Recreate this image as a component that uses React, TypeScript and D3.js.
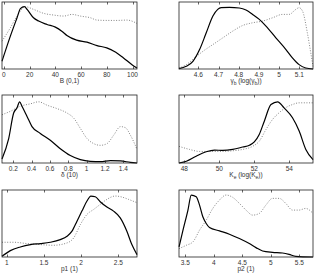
import React, { useEffect, useRef } from 'react';
import * as d3 from 'd3';

// panel 1: B (0,1)
const bDomain = [-1.5, 103.5];
const bTicks = [0, 20, 40, 60, 80, 100];
const bSolidX = [-1.5, 5, 10.2, 12.8, 15.9, 18, 23, 27, 33.5, 40, 45, 49, 56.5, 64.6, 72.4, 80, 87, 93, 99.6, 103.5];
const bSolidY = [0.115, 0.49, 0.765, 0.9, 0.93, 0.89, 0.765, 0.715, 0.665, 0.625, 0.565, 0.5, 0.43, 0.4, 0.35, 0.315, 0.25, 0.165, 0.065, 0.015];
const bDotX = [-1.5, 5, 10.2, 16.6, 23, 31, 38.7, 46.5, 53, 59.4, 67.2, 72.4, 80, 88, 95.7, 103.5];
const bDotY = [0.415, 0.615, 0.79, 0.93, 0.89, 0.83, 0.805, 0.79, 0.815, 0.79, 0.765, 0.73, 0.725, 0.725, 0.73, 0.68];

// panel 2: gamma_b
const gDomain = [4.504, 5.168];
const gTicks = [4.6, 4.7, 4.8, 4.9, 5, 5.1];
const gSolidX = [4.504, 4.54, 4.573, 4.606, 4.639, 4.672, 4.696, 4.713, 4.754, 4.803, 4.836, 4.869, 4.902, 4.935, 4.984, 5.034, 5.066, 5.099, 5.132, 5.168];
const gSolidY = [0.005, 0.04, 0.115, 0.29, 0.54, 0.79, 0.89, 0.915, 0.92, 0.91, 0.88, 0.815, 0.74, 0.64, 0.465, 0.29, 0.165, 0.065, 0.015, 0];
const gDotX = [4.504, 4.54, 4.581, 4.623, 4.672, 4.721, 4.77, 4.82, 4.869, 4.918, 4.968, 5.017, 5.05, 5.083, 5.099, 5.116, 5.14, 5.157, 5.168];
const gDotY = [0.015, 0.065, 0.165, 0.265, 0.365, 0.465, 0.565, 0.65, 0.69, 0.715, 0.765, 0.815, 0.815, 0.89, 0.915, 0.865, 0.54, 0.24, 0.04];

// panel 3: delta (10)
const dDomain = [0.077, 1.549];
const dTicks = [0.2, 0.4, 0.6, 0.8, 1, 1.2, 1.4];
const dSolidX = [0.077, 0.15, 0.204, 0.24, 0.269, 0.295, 0.35, 0.404, 0.495, 0.604, 0.713, 0.822, 0.931, 1.04, 1.15, 1.259, 1.368, 1.477, 1.549];
const dSolidY = [0.06, 0.36, 0.735, 0.81, 0.9, 0.835, 0.685, 0.535, 0.435, 0.335, 0.21, 0.11, 0.05, 0.025, 0.02, 0.035, 0.03, 0.01, 0];
const dDotX = [0.077, 0.168, 0.277, 0.386, 0.477, 0.568, 0.677, 0.786, 0.859, 0.931, 1.004, 1.077, 1.15, 1.222, 1.295, 1.368, 1.422, 1.477, 1.549];
const dDotY = [0.71, 0.76, 0.835, 0.87, 0.9, 0.85, 0.8, 0.735, 0.66, 0.51, 0.36, 0.285, 0.26, 0.285, 0.41, 0.535, 0.52, 0.41, 0.2];

// panel 4: K_e
const kDomain = [47.7, 55.35];
const kTicks = [48, 50, 52, 54];
const kSolidX = [47.7, 48.12, 48.68, 49.25, 49.73, 50.2, 50.77, 51.34, 51.72, 52.0, 52.28, 52.57, 52.95, 53.33, 53.7, 54.18, 54.56, 54.94, 55.35];
const kSolidY = [0, 0.025, 0.1, 0.165, 0.19, 0.185, 0.2, 0.235, 0.26, 0.31, 0.42, 0.615, 0.86, 0.9, 0.81, 0.665, 0.47, 0.2, 0.05];
const kDotX = [47.7, 48.3, 48.87, 49.44, 50.0, 50.77, 51.34, 51.9, 52.28, 52.66, 53.04, 53.42, 53.8, 54.18, 54.56, 54.94, 55.35];
const kDotY = [0.245, 0.2, 0.17, 0.17, 0.17, 0.18, 0.2, 0.245, 0.32, 0.49, 0.64, 0.74, 0.815, 0.86, 0.885, 0.885, 0.885];

// panel 5: p1 (1)
const p1Domain = [0.937, 2.75];
const p1Ticks = [1, 1.5, 2, 2.5];
const p1SolidX = [0.937, 1.049, 1.183, 1.32, 1.452, 1.586, 1.72, 1.81, 1.877, 1.944, 2.01, 2.078, 2.13, 2.19, 2.256, 2.346, 2.435, 2.525, 2.614, 2.681, 2.75];
const p1SolidY = [0.01, 0.095, 0.15, 0.185, 0.2, 0.22, 0.26, 0.31, 0.385, 0.535, 0.685, 0.835, 0.91, 0.9, 0.825, 0.745, 0.685, 0.585, 0.385, 0.185, 0.035];
const p1DotX = [0.937, 1.094, 1.273, 1.452, 1.631, 1.81, 1.9, 1.99, 2.078, 2.168, 2.256, 2.346, 2.458, 2.547, 2.636, 2.75];
const p1DotY = [0.22, 0.22, 0.2, 0.185, 0.175, 0.21, 0.285, 0.485, 0.635, 0.71, 0.785, 0.86, 0.91, 0.895, 0.86, 0.81];

// panel 6: p2 (1)
const p2Domain = [3.39, 5.74];
const p2Ticks = [3.5, 4, 4.5, 5, 5.5];
const p2SolidX = [3.39, 3.46, 3.547, 3.605, 3.692, 3.75, 3.808, 3.867, 3.925, 4.1, 4.274, 4.449, 4.623, 4.74, 4.856, 5.03, 5.205, 5.32, 5.438, 5.74];
const p2SolidY = [0.15, 0.4, 0.7, 0.925, 0.9, 0.775, 0.6, 0.5, 0.44, 0.39, 0.34, 0.275, 0.2, 0.14, 0.09, 0.07, 0.06, 0.04, 0.01, 0];
const p2DotX = [3.39, 3.518, 3.634, 3.75, 3.867, 3.983, 4.1, 4.216, 4.332, 4.449, 4.565, 4.682, 4.798, 4.914, 5.03, 5.147, 5.263, 5.379, 5.496, 5.612, 5.74];
const p2DotY = [0.125, 0.175, 0.225, 0.4, 0.55, 0.725, 0.85, 0.925, 0.89, 0.8, 0.7, 0.625, 0.65, 0.775, 0.875, 0.875, 0.8, 0.7, 0.7, 0.725, 0.65];

type Label = { main: string; sub?: string; mid?: string; sub2?: string; end?: string };

const panels = [
  { domain: bDomain, ticks: bTicks, sx: bSolidX, sy: bSolidY, dx: bDotX, dy: bDotY, label: { main: 'B (0,1)' } as Label, col: 0, row: 0 },
  { domain: gDomain, ticks: gTicks, sx: gSolidX, sy: gSolidY, dx: gDotX, dy: gDotY, label: { main: 'γ', sub: 'b', mid: ' (log(γ', sub2: 'b', end: '))' } as Label, col: 1, row: 0 },
  { domain: dDomain, ticks: dTicks, sx: dSolidX, sy: dSolidY, dx: dDotX, dy: dDotY, label: { main: 'δ (10)' } as Label, col: 0, row: 1 },
  { domain: kDomain, ticks: kTicks, sx: kSolidX, sy: kSolidY, dx: kDotX, dy: kDotY, label: { main: 'K', sub: 'e', mid: ' (log(K', sub2: 'e', end: '))' } as Label, col: 1, row: 1 },
  { domain: p1Domain, ticks: p1Ticks, sx: p1SolidX, sy: p1SolidY, dx: p1DotX, dy: p1DotY, label: { main: 'p1 (1)' } as Label, col: 0, row: 2 },
  { domain: p2Domain, ticks: p2Ticks, sx: p2SolidX, sy: p2SolidY, dx: p2DotX, dy: p2DotY, label: { main: 'p2 (1)' } as Label, col: 1, row: 2 }
];

const colX = [[2, 137], [179, 313]];
const rowY = [[2, 69], [95, 163], [190, 257]];

const App = () => {
  const ref = useRef<SVGSVGElement>(null);

  useEffect(() => {
    const svg = d3.select(ref.current);
    svg.selectAll('*').remove();
    const font = 'Liberation Sans, Arial, sans-serif';

    panels.forEach(function (p) {
      const [x0, x1] = colX[p.col];
      const [y0, y1] = rowY[p.row];
      const x = d3.scaleLinear().domain(p.domain).range([x0, x1]);
      const y = d3.scaleLinear().domain([0, 1]).range([y1, y0]);
      const g = svg.append('g');

      const line = d3.line<number>()
        .x(function (d) { return x(d[0]); })
        .y(function (d) { return y(d[1]); })
        .curve(d3.curveMonotoneX);

      const dotPts: any = p.dx.map(function (v, i) { return [v, p.dy[i]]; });
      const solidPts: any = p.sx.map(function (v, i) { return [v, p.sy[i]]; });

      g.append('path')
        .attr('d', line(dotPts))
        .attr('fill', 'none')
        .attr('stroke', '#777')
        .attr('stroke-width', 0.9)
        .attr('stroke-dasharray', '1,1.6');
      g.append('path')
        .attr('d', line(solidPts))
        .attr('fill', 'none')
        .attr('stroke', '#000')
        .attr('stroke-width', 1.2);

      // box
      g.append('rect')
        .attr('x', x0).attr('y', y0)
        .attr('width', x1 - x0).attr('height', y1 - y0)
        .attr('fill', 'none')
        .attr('stroke', '#222')
        .attr('stroke-width', 0.8);

      // ticks top and bottom, inside
      p.ticks.forEach(function (t) {
        const tx = Math.round(x(t)) + 0.5;
        g.append('line').attr('x1', tx).attr('x2', tx).attr('y1', y1).attr('y2', y1 - 2.5)
          .attr('stroke', '#222').attr('stroke-width', 0.7);
        g.append('line').attr('x1', tx).attr('x2', tx).attr('y1', y0).attr('y2', y0 + 2.5)
          .attr('stroke', '#222').attr('stroke-width', 0.7);
        g.append('text')
          .attr('x', x(t))
          .attr('y', y1 + 7.5)
          .attr('font-size', '6.5px')
          .attr('font-family', font)
          .attr('fill', '#333')
          .style('text-anchor', 'middle')
          .text(String(t));
      });

      // axis label
      const lbl = g.append('text')
        .attr('x', (x0 + x1) / 2)
        .attr('y', y1 + 14)
        .attr('font-size', '6.5px')
        .attr('font-family', font)
        .attr('fill', '#333')
        .style('text-anchor', 'middle');
      lbl.append('tspan').text(p.label.main);
      if (p.label.sub) {
        lbl.append('tspan').attr('font-size', '5px').attr('dy', 1.5).text(p.label.sub);
        lbl.append('tspan').attr('dy', -1.5).text(p.label.mid || '');
        lbl.append('tspan').attr('font-size', '5px').attr('dy', 1.5).text(p.label.sub2 || '');
        lbl.append('tspan').attr('dy', -1.5).text(p.label.end || '');
      }
    });
  }, []);

  return (
    <svg ref={ref} width={316} height={273}
      style={{ position: 'absolute', left: 0, top: 0, background: '#fff' }} />
  );
};

export default App;
